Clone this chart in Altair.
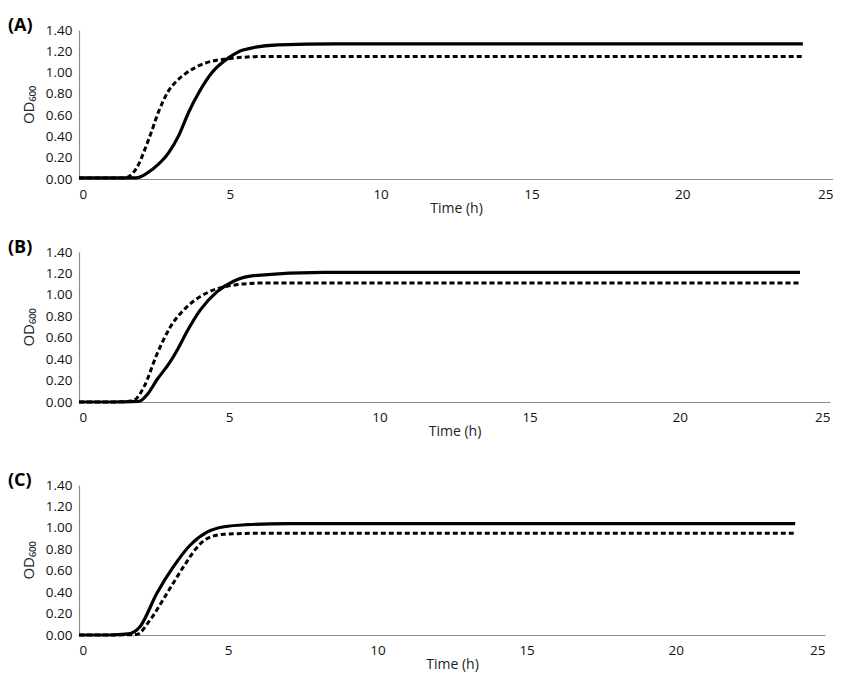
import altair as alt
import pandas as pd

# ---- data ----
time_a_solid = [0, 1.0, 1.9, 2.43, 2.98, 3.31, 3.64, 3.97, 4.41, 4.97, 5.41, 6.6, 8.5, 24]
od_a_solid = [0.01, 0.01, 0.01, 0.09, 0.25, 0.41, 0.63, 0.81, 1.00, 1.14, 1.21, 1.26, 1.27, 1.27]
time_a_dash = [0, 1.0, 1.49, 1.88, 2.32, 2.65, 2.95, 3.2, 3.53, 4.2, 4.97, 6.0, 24]
od_a_dash = [0.01, 0.01, 0.01, 0.09, 0.38, 0.64, 0.82, 0.91, 0.99, 1.09, 1.13, 1.15, 1.15]

time_b_solid = [0, 1.0, 1.99, 2.3, 2.6, 3.0, 3.3, 3.6, 4.04, 4.6, 5.16, 5.82, 8.16, 24]
od_b_solid = [0.0, 0.0, 0.005, 0.08, 0.21, 0.36, 0.50, 0.66, 0.86, 1.03, 1.13, 1.18, 1.21, 1.21]
time_b_dash = [0, 1.0, 1.6, 1.85, 2.16, 2.6, 3.04, 3.6, 4.27, 4.93, 6.04, 24]
od_b_dash = [0.0, 0.0, 0.005, 0.02, 0.14, 0.45, 0.70, 0.89, 1.02, 1.08, 1.11, 1.11]

time_c_solid = [0, 1.0, 1.65, 2.05, 2.61, 3.17, 3.73, 4.29, 4.86, 5.64, 7.0, 24]
od_c_solid = [0.0, 0.0, 0.01, 0.08, 0.39, 0.64, 0.84, 0.96, 1.01, 1.03, 1.04, 1.04]
time_c_dash = [0, 1.0, 1.93, 2.38, 2.95, 3.51, 3.96, 4.29, 4.86, 6.0, 24]
od_c_dash = [0.0, 0.0, 0.005, 0.14, 0.39, 0.64, 0.82, 0.90, 0.94, 0.95, 0.95]

panel_labels = ["(A)", "(B)", "(C)"]
x_ticks = [0, 5, 10, 15, 20, 25]
y_ticks = [0.0, 0.2, 0.4, 0.6, 0.8, 1.0, 1.2, 1.4]

FONT = "Open Sans"


def panel(label, ts, ys, td, yd, width, height, extra_below=0):
    solid = pd.DataFrame({"t": ts, "od": ys})
    dash = pd.DataFrame({"t": td, "od": yd})
    x = alt.X("t:Q", title="Time (h)",
              scale=alt.Scale(domain=[0, 25], nice=False),
              axis=alt.Axis(values=x_ticks, format="d"))
    y = alt.Y("od:Q", title="OD₆₀₀",
              scale=alt.Scale(domain=[0, 1.4], nice=False),
              axis=alt.Axis(values=y_ticks, format=".2f"))
    l_solid = alt.Chart(solid).mark_line(
        color="#000", strokeWidth=3.2, interpolate="monotone", clip=False
    ).encode(x=x, y=y)
    l_dash = alt.Chart(dash).mark_line(
        color="#000", strokeWidth=3, strokeDash=[5, 3], interpolate="monotone", clip=False
    ).encode(x=x, y=y)
    txt = alt.Chart(pd.DataFrame({"lab": [label]})).mark_text(
        font=FONT, fontSize=18, fontWeight="bold", align="left",
        baseline="middle", color="#000"
    ).encode(text="lab:N", x=alt.value(-71), y=alt.value(-4))
    layers = [l_solid, l_dash, txt]
    if extra_below:
        spacer = alt.Chart(pd.DataFrame({"s": ["."]})).mark_text(
            fontSize=10, opacity=0, baseline="bottom"
        ).encode(text="s:N", x=alt.value(5), y=alt.value(height + extra_below))
        layers.append(spacer)
    return alt.layer(*layers).properties(width=width, height=height)


pa = panel(panel_labels[0], time_a_solid, od_a_solid, time_a_dash, od_a_dash, 754, 149)
pb = panel(panel_labels[1], time_b_solid, od_b_solid, time_b_dash, od_b_dash, 751, 150,
           extra_below=47)
pc = panel(panel_labels[2], time_c_solid, od_c_solid, time_c_dash, od_c_dash, 746, 150)

chart = alt.vconcat(pa, pb, pc, spacing=23).properties(
    padding={"left": 0, "top": 9, "right": 0, "bottom": 0}
).configure_view(
    stroke=None
).configure_axis(
    grid=False, ticks=False, domainColor="#8c8c8c", domainWidth=1.2,
    labelFont=FONT, labelFontSize=13.5, labelColor="#111",
    titleFont=FONT, titleFontSize=14, titleColor="#222", titleFontWeight="normal",
).configure_axisX(
    labelPadding=8, titlePadding=1
).configure_axisY(
    labelPadding=7, titlePadding=9, titleFontSize=15
)

chart.save("out.html", embed_options={"renderer": "svg", "actions": False})
